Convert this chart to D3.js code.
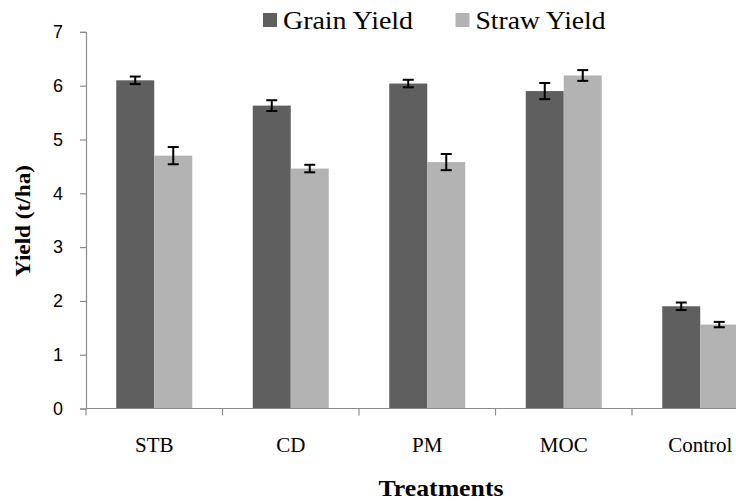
<!DOCTYPE html>
<html><head><meta charset="utf-8">
<script src="https://cdn.jsdelivr.net/npm/d3@7"></script>
<style>body{margin:0;background:#fff}svg{display:block}</style>
</head><body><svg id="c" width="736" height="502"></svg>
<script>
const categories = ["STB", "CD", "PM", "MOC", "Control"];
const seriesNames = ["Grain Yield", "Straw Yield"];
const grainYield = [6.10, 5.63, 6.04, 5.90, 1.90];
const grainErr = [0.07, 0.10, 0.07, 0.15, 0.07];
const strawYield = [4.70, 4.46, 4.58, 6.19, 1.56];
const strawErr = [0.16, 0.07, 0.15, 0.10, 0.05];
const yTicks = [0, 1, 2, 3, 4, 5, 6, 7];
const colors = ["#5f5f5f", "#b3b3b3"];

const svg = d3.select("#c");
const x0 = d3.scaleBand().domain(categories).range([86, 768.5]).padding(0);
const bw = x0.bandwidth();
const x1 = d3.scaleBand().domain(seriesNames).range([bw/2 - 38, bw/2 + 38]).padding(0);
const y = d3.scaleLinear().domain([0, 7]).range([408.5, 31.9]);

const rows = categories.map((c, i) => ({
  cat: c,
  vals: [
    {s: seriesNames[0], v: grainYield[i], e: grainErr[i], col: colors[0]},
    {s: seriesNames[1], v: strawYield[i], e: strawErr[i], col: colors[1]}
  ]
}));

// y axis
const yAxis = d3.axisLeft(y).tickValues(yTicks).tickSize(6).tickPadding(17).tickFormat(d3.format("d"));
const ya = svg.append("g").attr("transform", "translate(86,0)").call(yAxis);
ya.select(".domain").attr("stroke", "#8c8c8c").attr("stroke-width", 1.2);
ya.selectAll(".tick line").attr("stroke", "#8c8c8c").attr("stroke-width", 1.2);
ya.selectAll(".tick text").attr("font-family", "Liberation Sans, Arial, sans-serif").attr("font-size", 18).attr("fill", "#000");

// bars
const g = svg.append("g");
const grp = g.selectAll("g.cat").data(rows).join("g").attr("transform", d => `translate(${x0(d.cat)},0)`);
grp.selectAll("rect").data(d => d.vals).join("rect")
  .attr("x", d => x1(d.s)).attr("width", x1.bandwidth())
  .attr("y", d => y(d.v)).attr("height", d => y(0) - y(d.v))
  .attr("fill", d => d.col);

// error bars
const eb = grp.selectAll("g.err").data(d => d.vals).join("g").attr("class", "err")
  .attr("transform", d => `translate(${x1(d.s) + x1.bandwidth()/2},0)`);
eb.append("line").attr("x1", 0).attr("x2", 0).attr("y1", d => y(d.v + d.e)).attr("y2", d => y(d.v - d.e)).attr("stroke", "#000").attr("stroke-width", 2);
eb.append("line").attr("x1", -5.5).attr("x2", 5.5).attr("y1", d => y(d.v + d.e)).attr("y2", d => y(d.v + d.e)).attr("stroke", "#000").attr("stroke-width", 2);
eb.append("line").attr("x1", -5.5).attr("x2", 5.5).attr("y1", d => y(d.v - d.e)).attr("y2", d => y(d.v - d.e)).attr("stroke", "#000").attr("stroke-width", 2);

// x axis
const xa = svg.append("g").attr("transform", `translate(0,${y(0)})`);
xa.append("line").attr("x1", 86).attr("x2", 768.5).attr("y1", 0).attr("y2", 0).attr("stroke", "#8c8c8c").attr("stroke-width", 1.2);
xa.selectAll("line.tk").data(categories).join("line").attr("class", "tk")
  .attr("x1", d => x0(d)).attr("x2", d => x0(d)).attr("y1", 0).attr("y2", 7)
  .attr("stroke", "#8c8c8c").attr("stroke-width", 1.2);
xa.selectAll("text").data(categories).join("text")
  .attr("x", d => x0(d) + bw/2).attr("y", 43).attr("text-anchor", "middle")
  .attr("font-family", "Liberation Serif, Times New Roman, serif").attr("font-size", 21).attr("fill", "#000")
  .text(d => d);

// axis titles
svg.append("text").attr("transform", "translate(30,221) rotate(-90)").attr("text-anchor", "middle")
  .attr("font-family", "Liberation Serif, Times New Roman, serif").attr("font-weight", "bold").attr("font-size", 20)
  .attr("textLength", 112).attr("lengthAdjust", "spacingAndGlyphs").text("Yield (t/ha)");
svg.append("text").attr("x", 441).attr("y", 496).attr("text-anchor", "middle")
  .attr("font-family", "Liberation Serif, Times New Roman, serif").attr("font-weight", "bold").attr("font-size", 23)
  .attr("textLength", 125).attr("lengthAdjust", "spacingAndGlyphs").text("Treatments");

// legend
const legX = [263, 455.5];
const lg = svg.append("g").selectAll("g").data(seriesNames).join("g").attr("transform", (d, i) => `translate(${legX[i]},0)`);
lg.append("rect").attr("x", 0).attr("y", 13).attr("width", 14).attr("height", 14).attr("fill", (d, i) => colors[i]);
lg.append("text").attr("x", 20).attr("y", 28.5)
  .attr("font-family", "Liberation Serif, Times New Roman, serif").attr("font-size", 25)
  .attr("textLength", 130).attr("lengthAdjust", "spacingAndGlyphs").text(d => d);
</script></body></html>
